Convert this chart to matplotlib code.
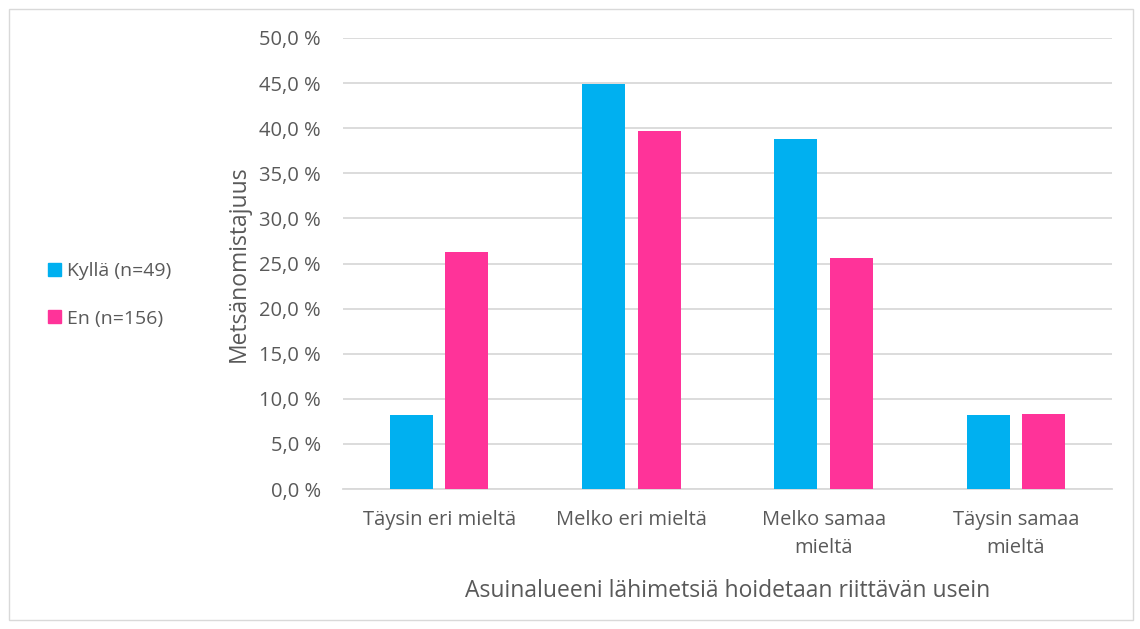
import numpy as np
import matplotlib.pyplot as plt
from matplotlib.patches import Rectangle, Patch

categories = ["Täysin eri mieltä", "Melko eri mieltä", "Melko samaa\nmieltä", "Täysin samaa\nmieltä"]
kylla = [8.2, 44.9, 38.8, 8.2]
en = [26.3, 39.7, 25.6, 8.3]
series_names = ["Kyllä (n=49)", "En (n=156)"]
yticks = np.arange(0, 55, 5)

plt.rcParams['font.family'] = ['Open Sans', 'DejaVu Sans']
txt = '#595959'

fig = plt.figure(figsize=(11.4, 6.29), dpi=100)
ax = fig.add_axes([343 / 1140, 1 - 489 / 629, 769 / 1140, 451 / 629])

x = np.arange(len(categories))
w = 0.224
ax.bar(x - 0.144, kylla, w, color='#00B0F0', zorder=3)
ax.bar(x + 0.144, en, w, color='#FF3399', zorder=3)

ax.set_xlim(-0.5, 3.5)
ax.set_ylim(0, 50)
ax.set_yticks(yticks)
ax.set_yticklabels([f"{v:.1f} %".replace('.', ',') for v in yticks], color=txt, fontsize=14.5)
ax.set_xticks(x)
ax.set_xticklabels(categories, color=txt, fontsize=14.5, linespacing=1.55)
ax.tick_params(length=0)
ax.tick_params(axis='x', pad=15)
ax.tick_params(axis='y', pad=16)
ax.grid(axis='y', color='#D9D9D9', lw=1.3, zorder=0)
for s in ['top', 'right', 'left']:
    ax.spines[s].set_visible(False)
ax.spines['bottom'].set_color('#D9D9D9')
ax.spines['bottom'].set_linewidth(1.3)

ax.set_ylabel('Metsänomistajuus', color=txt, fontsize=16.5, labelpad=6)
ax.set_xlabel('Asuinalueeni lähimetsiä hoidetaan riittävän usein', color=txt, fontsize=16.5, labelpad=15)

handles = [Patch(color='#00B0F0'), Patch(color='#FF3399')]
fig.legend(handles, series_names, loc='center left', bbox_to_anchor=(0.027, 0.531),
           frameon=False, fontsize=14, labelcolor=txt, handlelength=0.65, handleheight=0.65,
           handletextpad=0.3, labelspacing=1.5)

fig.add_artist(Rectangle((0.008, 0.014), 0.986, 0.972, transform=fig.transFigure,
                         fill=False, edgecolor='#D9D9D9', lw=1))

fig.savefig('out.png', dpi=100)
